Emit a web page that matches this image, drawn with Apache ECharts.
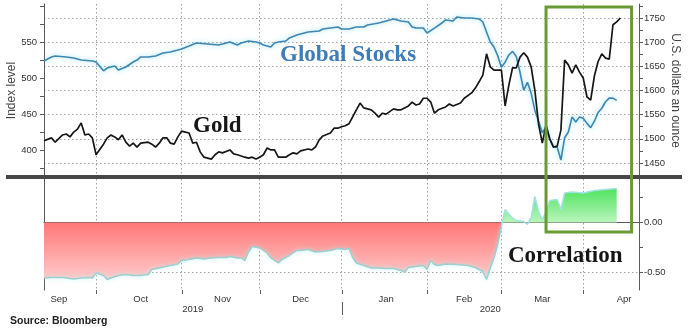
<!DOCTYPE html>
<html><head><meta charset="utf-8">
<script src="https://cdn.jsdelivr.net/npm/echarts@6/dist/echarts.min.js"></script>
<style>html,body{margin:0;padding:0;background:#fff}#c{width:688px;height:330px}</style>
</head><body><div id="c"></div>
<script>
// ---------- axis / calendar settings ----------
const axisStart = '2019-09-11', axisEnd = '2020-04-22';
const calStart = '2019-09-01', calEnd = '2020-04-30';
const monthNames = ['Jan','Feb','Mar','Apr','May','Jun','Jul','Aug','Sep','Oct','Nov','Dec'];
const leftAxisName = 'Index level', rightAxisName = 'U.S. dollars an ounce';

// tick / label values
const stockTicks = [375,400,425,450,475,500,525,550,575,600];
const stockLabels = [400,450,500,550];
const goldTicks = [1425,1450,1475,1500,1525,1550,1575,1600,1625,1650,1675,1700,1725,1750,1775];
const goldLabels = [1450,1500,1550,1600,1650,1700,1750];
const corrTicks = [-0.5,-0.25,0,0.25];
const corrLabels = [-0.5,0];

// ---------- data: [trading-day index from 2019-09-11, value] ----------
const stocks = [[0,523.6],[2,529.2],[3,530.6],[6,529.2],[8,527.8],[10,525],[13,523.6],[14,522.2],[16,510],[17,513.9],
[19,516.7],[20,511.1],[22,515.3],[24,522.2],[25,525],[26,529.2],[28,529.2],[30,530.6],[32,534.7],[34,536.1],
[36,538.9],[37,540.3],[39,544.4],[41,548.6],[44,547.2],[47,545.8],[49,548.6],[50,550],[52,545.8],[53,548.6],
[55,551.4],[57,550],[58,548.6],[59,545.8],[61,543.1],[62,548.6],[63,550],[65,551.4],[66,555.6],[68,559.7],
[70,562.5],[71,563.9],[74,565.3],[75,568],[77,569.4],[79,570.8],[80,568],[82,568],[84,570.8],[86,570.8],
[87,573.6],[90,576.4],[92,579.2],[94,582],[96,579.2],[98,577.8],[99,570.8],[100,569.4],[102,569.4],[103,562.5],
[105,569.4],[107,576.4],[108,580.6],[110,579.2],[111,584.7],[113,583.3],[115,583.3],[117,582],[118,577.8],[119,563.9],
[120,550],[121,543],[122,531],[123,515],[124,522],[125,532],[126,537],[127,530],[128,508],[129,483],
[130,494],[131,479],[132,455],[133,440],[134,424],[135,432],[136,415],[137,404],[138,404],[139,386],
[140,417],[141,425],[142,446],[143,439],[144,446],[145,444],[146,437],[147,431],[148,440],[149,452],
[150,458],[151,467],[152,472],[153,472],[154,469]];

const gold = [[0,1496],[2,1502],[3,1493],[5,1508],[6,1510],[7,1504],[8,1514],[9,1520],[10,1533],[11,1508],
[12,1510],[13,1502],[14,1467],[16,1489],[17,1502],[18,1508],[19,1504],[20,1498],[21,1508],[22,1493],
[23,1485],[24,1491],[25,1483],[26,1491],[28,1493],[29,1489],[30,1483],[31,1491],[32,1502],[33,1502],
[34,1491],[35,1489],[36,1504],[37,1516],[38,1514],[39,1512],[40,1491],[41,1493],[42,1473],[43,1462],
[45,1458],[46,1467],[47,1473],[48,1471],[50,1477],[51,1469],[52,1467],[54,1462],[55,1460],[56,1462],
[57,1458],[58,1462],[59,1467],[60,1481],[61,1477],[62,1477],[63,1462],[65,1462],[66,1467],[67,1471],
[68,1469],[69,1475],[71,1479],[72,1477],[73,1483],[74,1498],[75,1506],[77,1512],[78,1522],[79,1522],
[80,1525],[81,1527],[82,1531],[84,1560],[85,1574],[86,1564],[88,1560],[89,1553],[90,1545],[91,1553],
[92,1551],[94,1562],[95,1560],[96,1560],[98,1568],[99,1576],[100,1570],[101,1572],[102,1584],[103,1584],
[104,1576],[105,1553],[106,1560],[108,1566],[109,1572],[110,1568],[112,1574],[113,1584],[115,1595],[116,1605],
[117,1618],[118,1632],[119,1676],[120,1649],[121,1642],[122,1642],[123,1642],[124,1568],[125,1611],[126,1647],
[127,1647],[128,1669],[129,1678],[130,1669],[131,1649],[132,1600],[133,1530],[134,1491],[135,1529],[136,1500],
[137,1483],[138,1485],[139,1518],[140,1663],[141,1653],[142,1636],[143,1653],[144,1638],[145,1626],[146,1587],
[147,1580],[148,1630],[149,1660],[150,1676],[151,1667],[152,1665],[153,1736],[154,1742],[155,1750]];

const corr = [[0,-0.555],[2,-0.55],[5,-0.55],[8,-0.565],[10,-0.555],[12,-0.55],[13,-0.555],[14,-0.505],[16,-0.53],[17,-0.57],
[18,-0.555],[20,-0.53],[22,-0.52],[24,-0.53],[26,-0.53],[28,-0.52],[29,-0.47],[31,-0.455],[32,-0.445],[34,-0.43],
[36,-0.415],[37,-0.38],[39,-0.37],[41,-0.355],[43,-0.365],[45,-0.355],[47,-0.35],[49,-0.35],[50,-0.34],[52,-0.355],
[53,-0.355],[54,-0.38],[55,-0.295],[56,-0.24],[58,-0.255],[60,-0.305],[61,-0.355],[63,-0.405],[64,-0.37],[66,-0.33],
[68,-0.28],[69,-0.28],[71,-0.27],[73,-0.295],[75,-0.29],[77,-0.28],[79,-0.26],[81,-0.27],[82,-0.26],[83,-0.35],
[84,-0.405],[86,-0.43],[88,-0.455],[90,-0.455],[92,-0.46],[94,-0.46],[96,-0.48],[97,-0.495],[98,-0.45],[100,-0.44],
[102,-0.43],[103,-0.47],[104,-0.38],[105,-0.42],[106,-0.43],[108,-0.415],[111,-0.42],[114,-0.43],[116,-0.45],[118,-0.49],
[119,-0.57],[120,-0.455],[121,-0.355],[122,-0.22],[123,-0.04],[124,0.13],[125,0.085],[126,0.045],[127,0.02],[129,0.01],
[130,-0.02],[131,0.05],[132,0.26],[133,0.11],[134,0.03],[135,0.11],[136,0.22],[138,0.23],[139,0.13],[140,0.295],
[142,0.305],[145,0.295],[148,0.32],[151,0.33],[154,0.34]];

// highlighted window (trading-day index range) and its vertical extent
const boxDays = [135, 157.5];
const boxGoldTop = 1773, boxCorrBottom = -0.095;

// ---------- calendar helpers ----------
function weekdayList(a, b) {
  const out = []; let d = new Date(a + 'T00:00:00Z'); const e = new Date(b + 'T00:00:00Z');
  while (d <= e) { const w = d.getUTCDay(); if (w !== 0 && w !== 6) out.push(d.toISOString().slice(0,10)); d = new Date(d.getTime() + 86400000); }
  return out;
}
const allDays = weekdayList(calStart, calEnd);
const off = allDays.indexOf(axisStart);
const days = allDays.slice(off, allDays.indexOf(axisEnd) + 1);
const last = days.length - 1;

const monthStart = new Set();
for (let i = 1; i < days.length; i++) if (days[i].slice(5,7) !== days[i-1].slice(5,7)) monthStart.add(i);

const monthLabel = {};
(function(){
  let f = 0;
  for (let i = 1; i <= allDays.length; i++) {
    if (i === allDays.length || allDays[i].slice(5,7) !== allDays[i-1].slice(5,7)) {
      const c = Math.round((f + i) / 2) - off;
      monthLabel[c] = monthNames[+allDays[f].slice(5,7) - 1];
      f = i;
    }
  }
})();
const yearLabel = {}; let yearTick = -1;
(function(){
  let f = 0;
  for (let i = 1; i <= days.length; i++) {
    if (i === days.length || days[i].slice(0,4) !== days[i-1].slice(0,4)) {
      const end = i === days.length ? last : i;
      yearLabel[Math.round((f + end) / 2)] = days[f].slice(0,4);
      if (i < days.length) yearTick = i;
      f = i;
    }
  }
})();

// ---------- styling ----------
const axisGray = '#5a5a5a';
const tickFont = { fontFamily: '"Liberation Sans Narrow","Liberation Sans",sans-serif', fontSize: 9.5, color: '#333' };
const gridDot = { color: '#a0a0a0', width: 1, type: [1.5, 2.5] };
const nameFont = '12px "Liberation Sans",sans-serif';

const chart = echarts.init(document.getElementById('c'), null, { renderer: 'canvas' });

const negIdx = corr.findIndex(p => p[1] >= 0) - 1;
const corrNeg = corr.slice(0, negIdx + 1);
const corrPos = corr.slice(negIdx);

const option = {
  animation: false,
  backgroundColor: '#fff',
  grid: [
    { left: 44, right: 49, top: 4, height: 173, outerBoundsMode: 'none', containLabel: false },
    { left: 44, right: 49, top: 179, height: 111, outerBoundsMode: 'none', containLabel: false }
  ],
  xAxis: [
    { type: 'category', gridIndex: 0, data: days, boundaryGap: false,
      axisLine: { show: false }, axisTick: { show: false }, axisLabel: { show: false },
      splitLine: { show: true, interval: (i) => monthStart.has(i), lineStyle: gridDot } },
    { type: 'category', gridIndex: 1, data: days, boundaryGap: false,
      axisLine: { show: true, lineStyle: { color: axisGray, width: 1 } },
      axisTick: { show: false },
      axisLabel: Object.assign({ interval: (i) => monthLabel[i] !== undefined, formatter: (v, i) => monthLabel[i] || '', margin: 4, showMinLabel: true, showMaxLabel: true }, tickFont),
      splitLine: { show: true, interval: (i) => monthStart.has(i), lineStyle: gridDot } },
    { type: 'category', gridIndex: 1, data: days, boundaryGap: false, position: 'bottom', offset: 12,
      axisLine: { show: false }, axisTick: { show: false },
      axisLabel: Object.assign({ interval: (i) => yearLabel[i] !== undefined, formatter: (v, i) => yearLabel[i] || '', margin: 2, showMinLabel: true, showMaxLabel: true }, tickFont),
      splitLine: { show: false } }
  ],
  yAxis: [
    { type: 'value', gridIndex: 0, position: 'left', min: 362.5, max: 602.8,
      axisLine: { show: true, lineStyle: { color: axisGray } },
      axisTick: { show: true, customValues: stockTicks, length: 4, lineStyle: { color: axisGray } },
      axisLabel: Object.assign({ customValues: stockLabels, margin: 7, formatter: (v) => String(v) }, tickFont),
      splitLine: { show: false } },
    { type: 'value', gridIndex: 0, position: 'right', min: 1421, max: 1779,
      axisLine: { show: true, lineStyle: { color: axisGray } },
      axisTick: { show: true, customValues: goldTicks, length: 4, lineStyle: { color: axisGray } },
      axisLabel: Object.assign({ customValues: goldLabels, margin: 5, formatter: (v) => String(v) }, tickFont),
      splitLine: { show: false } },
    { type: 'value', gridIndex: 0, position: 'right', min: 1421, max: 1779,
      axisLine: { show: false }, axisTick: { show: false, customValues: goldLabels }, axisLabel: { show: false, customValues: goldLabels },
      splitLine: { show: true, lineStyle: gridDot } },
    { type: 'value', gridIndex: 1, position: 'right', min: -0.675, max: 0.435,
      axisLine: { show: true, lineStyle: { color: axisGray } },
      axisTick: { show: true, customValues: corrTicks, length: 4, lineStyle: { color: axisGray } },
      axisLabel: Object.assign({ customValues: corrLabels, margin: 5, formatter: (v) => v.toFixed(2) }, tickFont),
      splitLine: { show: false } },
    { type: 'value', gridIndex: 1, position: 'right', min: -0.675, max: 0.435,
      axisLine: { show: false }, axisTick: { show: false, customValues: corrLabels }, axisLabel: { show: false, customValues: corrLabels },
      splitLine: { show: true, lineStyle: gridDot } },
    { type: 'value', gridIndex: 1, position: 'left', min: -0.675, max: 0.435,
      axisLine: { show: true, lineStyle: { color: axisGray } }, axisTick: { show: false }, axisLabel: { show: false },
      splitLine: { show: false } }
  ],
  series: [
    { name: 'Global Stocks', type: 'line', xAxisIndex: 0, yAxisIndex: 0, data: stocks, symbol: 'none',
      lineStyle: { color: '#3f86b0', width: 1.6, shadowColor: 'rgba(130,220,245,0.9)', shadowBlur: 5 }, z: 3 },
    { name: 'Gold', type: 'line', xAxisIndex: 0, yAxisIndex: 1, data: gold, symbol: 'none',
      lineStyle: { color: '#161616', width: 1.7 }, z: 4 },
    { name: 'Correlation-', type: 'line', xAxisIndex: 1, yAxisIndex: 3, data: corrNeg, symbol: 'none',
      lineStyle: { color: '#9ccfcf', width: 1.5, shadowColor: 'rgba(180,240,240,0.9)', shadowBlur: 4 },
      areaStyle: { origin: 0, opacity: 1, color: new echarts.graphic.LinearGradient(0, 0, 0, 1, [
        { offset: 0, color: '#ff7777' }, { offset: 1, color: '#ffcaca' }]) } },
    { name: 'Correlation+', type: 'line', xAxisIndex: 1, yAxisIndex: 3, data: corrPos, symbol: 'none',
      lineStyle: { color: '#9fe3e3', width: 1.5 },
      areaStyle: { origin: 0, opacity: 1, color: new echarts.graphic.LinearGradient(0, 0, 0, 1, [
        { offset: 0, color: '#4fe460' }, { offset: 1, color: '#c6f6c6' }]) } }
  ]
};
chart.setOption(option);

const bx1 = chart.convertToPixel({ xAxisIndex: 1 }, boxDays[0]);
const bx2 = chart.convertToPixel({ xAxisIndex: 1 }, boxDays[1]);
const by1 = chart.convertToPixel({ yAxisIndex: 1 }, boxGoldTop);
const by2 = chart.convertToPixel({ yAxisIndex: 3 }, boxCorrBottom);
const axisY = chart.convertToPixel({ yAxisIndex: 3 }, -0.675);
const topMid = (chart.convertToPixel({ yAxisIndex: 1 }, 1421) + chart.convertToPixel({ yAxisIndex: 1 }, 1779)) / 2;

// month-boundary ticks and the year-boundary tick below the date axis
const tickEls = [];
monthStart.forEach(function (i) {
  const x = Math.round(chart.convertToPixel({ xAxisIndex: 1 }, i)) + 0.5;
  tickEls.push({ type: 'line', z: 50, shape: { x1: x, y1: axisY, x2: x, y2: axisY + 4 }, style: { stroke: axisGray, lineWidth: 1 } });
  if (i === yearTick) tickEls.push({ type: 'line', z: 50, shape: { x1: x, y1: axisY + 12, x2: x, y2: axisY + 25 }, style: { stroke: axisGray, lineWidth: 1 } });
});

const serif = '"Liberation Serif","Times New Roman",serif';
chart.setOption({
  graphic: tickEls.concat([
    { type: 'text', z: 60, x: 12, y: topMid, rotation: Math.PI / 2,
      style: { text: leftAxisName, font: nameFont, fill: '#444', align: 'center', verticalAlign: 'middle' } },
    { type: 'text', z: 60, x: 675, y: topMid, rotation: -Math.PI / 2,
      style: { text: rightAxisName, font: nameFont, fill: '#444', align: 'center', verticalAlign: 'middle' } },
    { type: 'rect', z: 100, shape: { x: 6, y: 175, width: 676, height: 4 }, style: { fill: '#474747' } },
    { type: 'rect', z: 101, shape: { x: bx1, y: by1, width: bx2 - bx1, height: by2 - by1 },
      style: { fill: 'none', stroke: '#6a9a36', lineWidth: 3 } },
    { type: 'text', z: 102, left: 280, top: 44, style: { text: 'Global Stocks', font: 'bold 23px ' + serif, fill: '#3d7db8' } },
    { type: 'text', z: 102, left: 193, top: 115, style: { text: 'Gold', font: 'bold 23px ' + serif, fill: '#161616' } },
    { type: 'text', z: 102, left: 508, top: 245, style: { text: 'Correlation', font: 'bold 23px ' + serif, fill: '#161616' } },
    { type: 'text', z: 102, left: 10, top: 316, style: { text: 'Source: Bloomberg', font: 'bold 10.5px "Liberation Sans",sans-serif', fill: '#222' } }
  ])
});
</script>
</body></html>
